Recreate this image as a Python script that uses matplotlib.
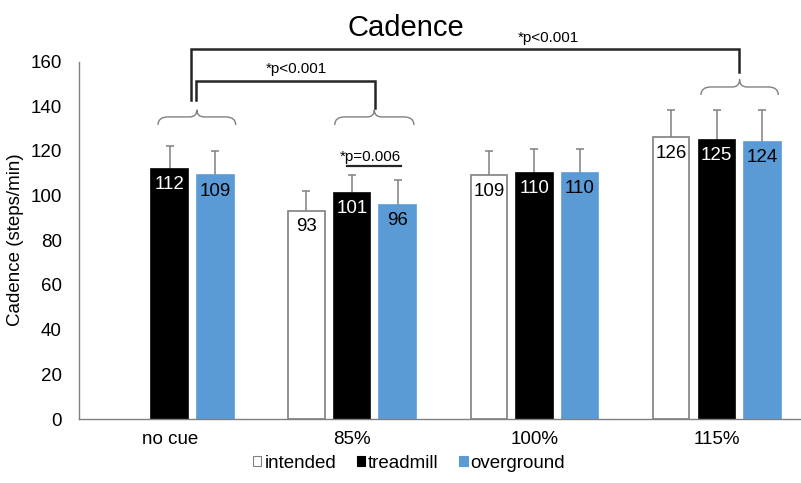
import numpy as np
import matplotlib
matplotlib.use("Agg")
import matplotlib.pyplot as plt
from matplotlib.path import Path
from matplotlib.patches import PathPatch, Patch

plt.rcParams['font.family'] = ['Liberation Sans', 'DejaVu Sans']

# ---- data ----
categories = ["no cue", "85%", "100%", "115%"]
series_names = ["intended", "treadmill", "overground"]
intended = [np.nan, 93, 109, 126]
treadmill = [112, 101, 110, 125]
overground = [109, 96, 110, 124]
intended_sd = [np.nan, 9, 11, 12.5]
treadmill_sd = [10, 8, 11, 13.5]
overground_sd = [11, 11, 11, 14.5]
yticks = [0, 20, 40, 60, 80, 100, 120, 140, 160]
title = "Cadence"
ylabel = "Cadence (steps/min)"
p_overall_115 = "*p<0.001"
p_overall_85 = "*p<0.001"
p_85_pair = "*p=0.006"

# ---- style ----
BLUE = "#5B9BD5"
GRAY = "#808080"
fills = ["white", "black", BLUE]
edges = [GRAY, "black", BLUE]
label_colors = ["black", "white", "black"]

W, H = 801, 483
fig = plt.figure(figsize=(W / 100, H / 100), dpi=100)
ax_left, ax_right = 78.5, 808.0
ax_bottom, ax_top = 419.0, 61.5
ax = fig.add_axes([ax_left / W, 1 - ax_bottom / H,
                   (ax_right - ax_left) / W, (ax_bottom - ax_top) / H])

x = np.arange(len(categories))
width = 0.2
step = 0.25
all_vals = [intended, treadmill, overground]
all_sd = [intended_sd, treadmill_sd, overground_sd]

for i, (vals, sds) in enumerate(zip(all_vals, all_sd)):
    vals = np.asarray(vals, float)
    sds = np.asarray(sds, float)
    xs = x + (i - 1) * step
    ok = ~np.isnan(vals)
    ax.bar(xs[ok], vals[ok], width=width, color=fills[i], edgecolor=edges[i],
           linewidth=1.2, zorder=2)
    # upper error whiskers with a small cap
    ax.vlines(xs[ok], vals[ok], vals[ok] + sds[ok], color=GRAY, lw=1.1, zorder=1)
    ax.plot(xs[ok], vals[ok] + sds[ok], ls="none", marker="_", ms=6, mew=1.1,
            color=GRAY, zorder=1)
    for xi, v in zip(xs[ok], vals[ok]):
        ax.text(xi, v - 7, f"{v:.0f}", ha="center", va="center", fontsize=13.5,
                color=label_colors[i], zorder=3)

ax.set_xlim(-0.5, 3.5)
ax.set_ylim(0, 160)
ax.set_yticks(yticks)
ax.set_xticks(x)
ax.set_xticklabels(categories)
ax.tick_params(axis="both", length=0, labelsize=13.5, colors="black")
ax.tick_params(axis="y", pad=12)
ax.tick_params(axis="x", pad=9)
for s in ["top", "right"]:
    ax.spines[s].set_visible(False)
for s in ["left", "bottom"]:
    ax.spines[s].set_color(GRAY)
    ax.spines[s].set_linewidth(1.0)

fig.text(16 / W, 1 - 240 / H, ylabel, rotation=90, ha="center", va="center",
         fontsize=13.5)
fig.text(406 / W, 1 - 36 / H, title, ha="center", va="baseline", fontsize=21)


def brace(xc, hw, y_end, y_h, y_tip, r=0.055, r2=0.04):
    verts = [(xc - hw, y_end), (xc - hw, y_h), (xc - hw + r, y_h),
             (xc - r2, y_h), (xc, y_h), (xc, y_tip),
             (xc, y_h), (xc + r2, y_h),
             (xc + hw - r, y_h), (xc + hw, y_h), (xc + hw, y_end)]
    codes = [Path.MOVETO, Path.CURVE3, Path.CURVE3,
             Path.LINETO, Path.CURVE3, Path.CURVE3,
             Path.CURVE3, Path.CURVE3,
             Path.LINETO, Path.CURVE3, Path.CURVE3]
    ax.add_patch(PathPatch(Path(verts, codes), fc="none", ec=GRAY, lw=1.0,
                           clip_on=False))


# braces grouping treadmill + overground
brace(0.149, 0.213, 131.6, 135.2, 138.4)
brace(1.122, 0.217, 131.6, 135.2, 138.4)
brace(3.125, 0.212, 145.0, 148.6, 152.0)

LINE = "#262626"
# no cue vs 115%
ax.plot([0.119, 0.119, 3.123, 3.123], [142.8, 165.5, 165.5, 155.5],
        color=LINE, lw=1.8, clip_on=False, solid_joinstyle="miter")
ax.text(2.079, 168.6, p_overall_115, ha="center", va="baseline", fontsize=11)
# no cue vs 85%
ax.plot([0.146, 0.146, 1.125, 1.125], [142.8, 151.3, 151.3, 139.0],
        color=LINE, lw=1.8, clip_on=False, solid_joinstyle="miter")
ax.text(0.695, 154.9, p_overall_85, ha="center", va="baseline", fontsize=11)
# treadmill vs overground at 85%
ax.plot([0.974, 1.267], [113.2, 113.2], color=LINE, lw=1.6, clip_on=False)
ax.text(1.103, 115.6, p_85_pair, ha="center", va="baseline", fontsize=11)

handles = [Patch(facecolor=fills[i], edgecolor=edges[i], linewidth=0.8)
           for i in range(3)]
fig.legend(handles, series_names, loc="center", bbox_to_anchor=(409 / W, 1 - 463 / H),
           ncol=3, frameon=False, fontsize=13.5, handlelength=0.45,
           handleheight=0.45, handletextpad=0.15, columnspacing=1.1,
           borderpad=0)

fig.savefig("out.png", dpi=100)
